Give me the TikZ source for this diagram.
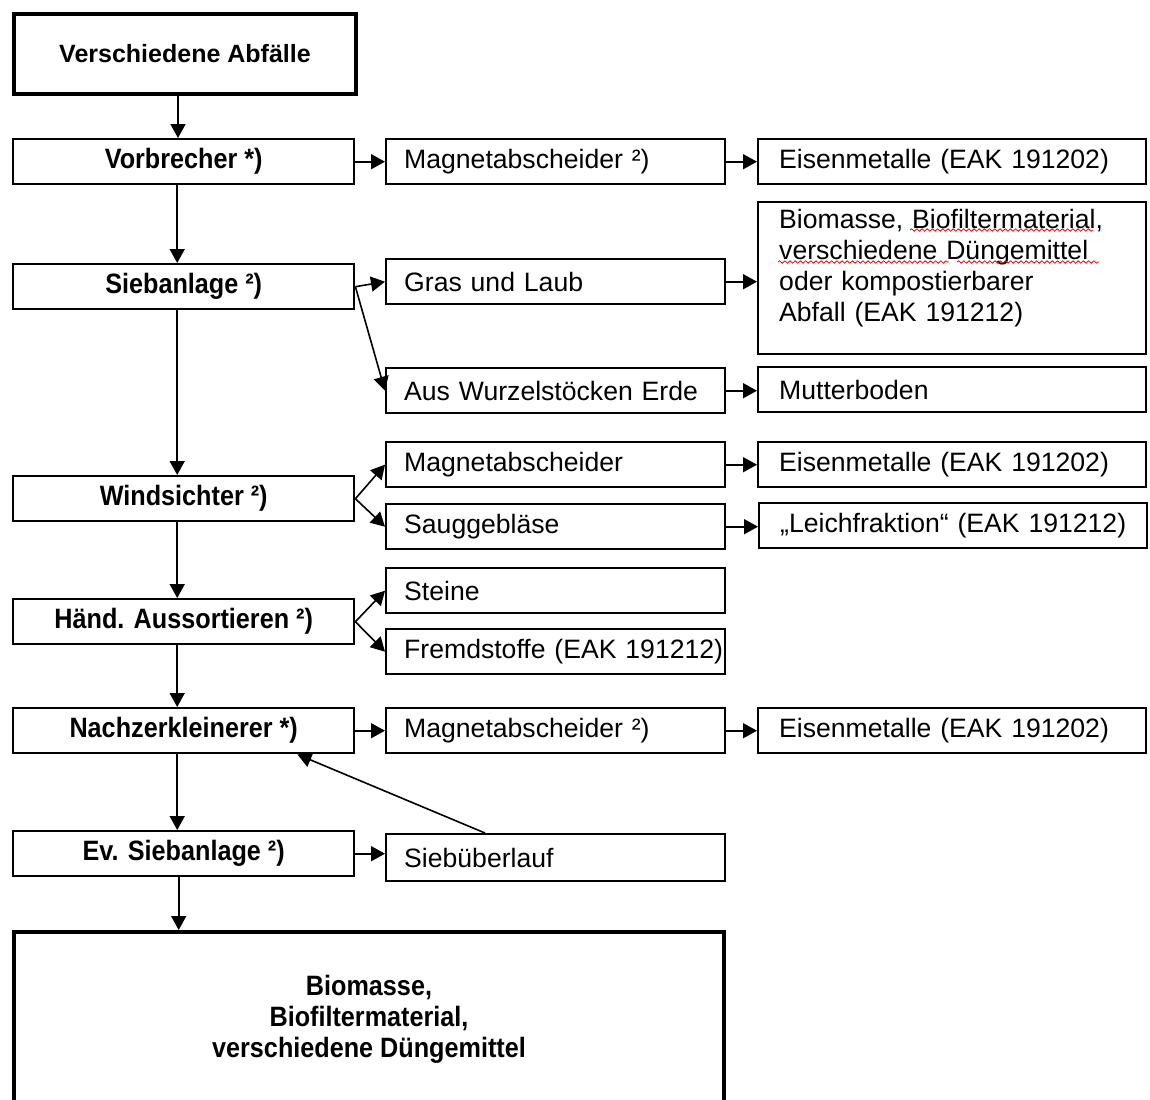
\documentclass[tikz,border=0pt]{standalone}
\usepackage{fontspec}
\setmainfont{Liberation Sans}
\newfontfamily\narrowfont[FakeStretch=0.9]{Liberation Sans}
\usetikzlibrary{arrows.meta,decorations.pathmorphing}

\newcommand\stagefont{\narrowfont\bfseries\fontsize{14}{15.5}\selectfont}
\newcommand\unitfont{\fontsize{13.3}{15.5}\selectfont}

\tikzset{
    stage/.style={draw, line width=1.2pt, anchor=north west,
        minimum width=170.5pt, minimum height=22.5pt, inner sep=0pt,
        font=\stagefont},
    unit/.style={draw, line width=1.2pt, anchor=north west,
        text width=169.5pt, inner xsep=0pt, minimum height=22.5pt,
        align=left, font=\unitfont,
        execute at begin node={\leftskip=9pt}},
    product/.style={unit, text width=194pt,
        execute at begin node={\leftskip=10.5pt}},
    flow/.style={-{Triangle[length=7pt,width=7.5pt]}, line width=0.8pt},
    spell/.style={red, line width=0.4pt, decorate,
        decoration={snake, amplitude=0.6pt, segment length=2.6pt}}
}

\begin{document}
\begin{tikzpicture}[x=0.5pt, y=-0.5pt]

    \useasboundingbox (0,0) rectangle (1150,1099);

    % Input
    \node[draw,
        line width=2pt,
        anchor=north west,
        minimum width=171pt,
        minimum height=40pt,
        font=\bfseries\fontsize{12.5}{15}\selectfont
    ] (abfaelle) at (12,12) {Verschiedene Abfälle};

    % Process stages
    \node[stage] (vorbrecher) at (12,138) {Vorbrecher *)};
    \node[stage] (siebanlage) at (12,263) {Siebanlage ²)};
    \node[stage] (windsichter) at (12,475) {Windsichter ²)};
    \node[stage] (aussort) at (12,598) {Händ. Aussortieren ²)};
    \node[stage] (nachzerk) at (12,707) {Nachzerkleinerer *)};
    \node[stage] (evsieb) at (12,830) {Ev. Siebanlage ²)};

    % Separation units
    \node[unit] (magnetA) at (385,138) {Magnetabscheider ²)};
    \node[unit] (gras) at (385,258) {Gras und Laub};
    \node[unit] (wurzel) at (385,367) {Aus Wurzelstöcken Erde};
    \node[unit] (magnetB) at (385,441) {Magnetabscheider};
    \node[unit] (saug) at (385,503) {Sauggebläse};
    \node[unit] (steine) at (385,567) {Steine};
    \node[unit] (fremd) at (385,628) {Fremdstoffe (EAK 191212)};
    \node[unit] (magnetC) at (385,707) {Magnetabscheider ²)};
    \node[unit, minimum height=23.5pt] (ueberlauf) at (385,833) {Siebüberlauf};

    % Products
    \node[product] (eisenA) at (757,138) {Eisenmetalle (EAK 191202)};
    \node[product,
        inner ysep=3pt,
        text height=10pt,
        text depth=60pt
    ] (bio) at (757,201) {Biomasse, Biofiltermaterial,\\
        verschiedene Düngemittel\\
        oder kompostierbarer\\
        Abfall (EAK 191212)};
    \node[product] (mutter) at (757,366) {Mutterboden};
    \node[product] (eisenB) at (757,441) {Eisenmetalle (EAK 191202)};
    \node[product] (leicht) at (758,502) {„Leichfraktion“ (EAK 191212)};
    \node[product] (eisenC) at (757,707) {Eisenmetalle (EAK 191202)};

    % spell check marks
    \draw[spell] (910,230) -- (1093,230);
    \draw[spell] (778,262) -- (949,262);
    \draw[spell] (957,262) -- (1099,262);

    % Output
    \node[draw,
        line width=2pt,
        anchor=north west,
        minimum width=355pt,
        minimum height=87pt,
        align=center,
        font=\stagefont
    ] (ergebnis) at (12,930) {Biomasse,\\Biofiltermaterial,\\verschiedene Düngemittel};

    % Main line
    \draw[flow] ([xshift=-3.5pt]abfaelle.south) -- ([xshift=-3.5pt]abfaelle.south |- vorbrecher.north);
    \draw[flow] ([xshift=-3.25pt]vorbrecher.south) -- ([xshift=-3.25pt]siebanlage.north);
    \draw[flow] ([xshift=-3.25pt]siebanlage.south) -- ([xshift=-3.25pt]windsichter.north);
    \draw[flow] ([xshift=-3.25pt]windsichter.south) -- ([xshift=-3.25pt]aussort.north);
    \draw[flow] ([xshift=-3.25pt]aussort.south) -- ([xshift=-3.25pt]nachzerk.north);
    \draw[flow] ([xshift=-3.25pt]nachzerk.south) -- ([xshift=-3.25pt]evsieb.north);
    \draw[flow] ([xshift=-2.5pt]evsieb.south) -- ([xshift=-2.5pt]evsieb.south |- ergebnis.north);

    % Branches
    \draw[flow] (vorbrecher.east) -- (magnetA.west);
    \draw[flow] (magnetA.east) -- (eisenA.west);

    \draw[flow] (siebanlage.east) -- (gras.west);
    \draw[flow] (siebanlage.east) -- (wurzel.west);
    \draw[flow] (gras.east) -- (gras.east -| bio.west);
    \draw[flow] (wurzel.east) -- (wurzel.east -| mutter.west);

    \draw[flow] (windsichter.east) -- (magnetB.west);
    \draw[flow] (windsichter.east) -- (saug.west);
    \draw[flow] (magnetB.east) -- (eisenB.west);
    \draw[flow] (saug.east) -- (saug.east -| leicht.west);

    \draw[flow] (aussort.east) -- (steine.west);
    \draw[flow] (aussort.east) -- (fremd.west);

    \draw[flow] (nachzerk.east) -- (magnetC.west);
    \draw[flow] (magnetC.east) -- (eisenC.west);

    \draw[flow] (evsieb.east) -- (evsieb.east -| ueberlauf.west);
    \draw[flow] ([xshift=50pt]ueberlauf.north west) -- ([xshift=-29pt]nachzerk.south east);

\end{tikzpicture}
\end{document}
